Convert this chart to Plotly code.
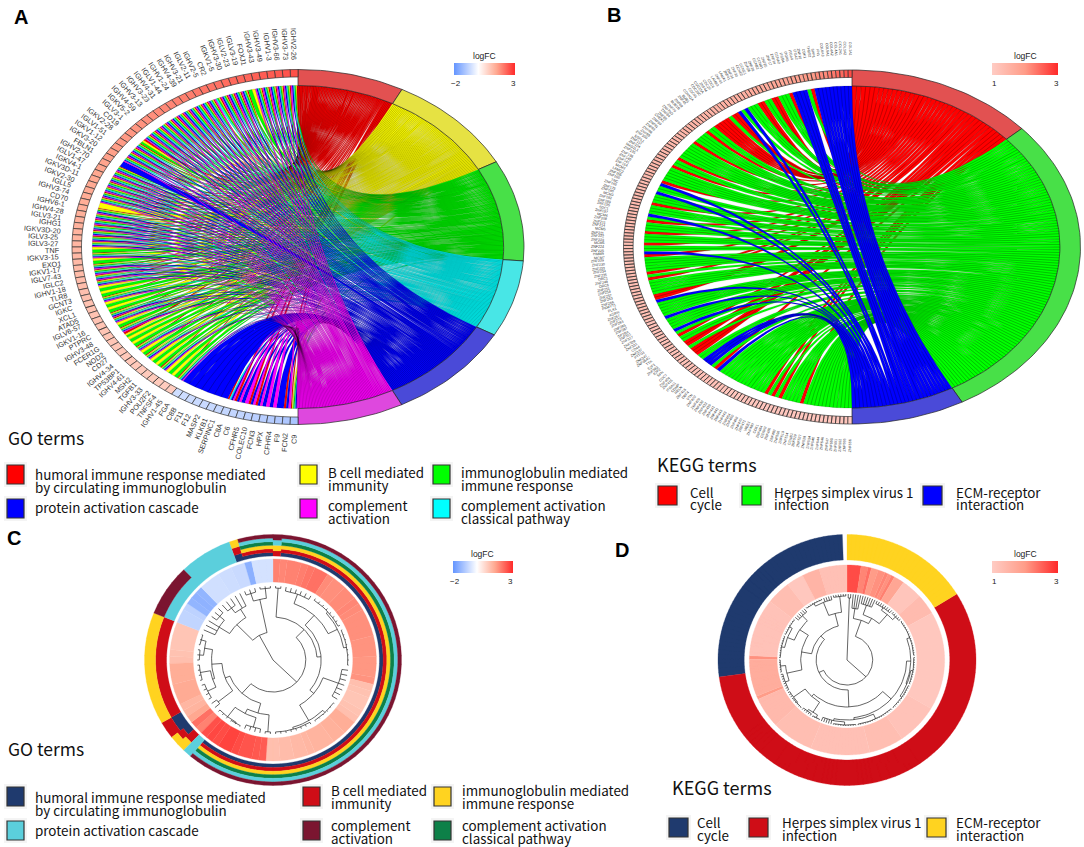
import itertools
import numpy as np
import plotly.graph_objects as go

W, H = 1084, 847

# ---------- Panel A data ----------
GO_TERMS = ["humoral", "B cell", "immunoglobulin", "classical", "protein", "complement"]
GO_CODES = "HBILPC"
GO_CHORD_COLORS = ["#FF0000", "#FFFF00", "#00FF00", "#00FFFF", "#0000FF", "#FF00FF"]
GO_SECTOR_COLORS = ["#E25151", "#E6E243", "#48E048", "#48E6E6", "#4A4AD8", "#DE48DE"]
GO_SPANS = [27.4, 33.9, 33.2, 25.2, 33.0, 27.3]

A_GENES = ("IGHV2-26 IGHV3-73 IGHV3-66 IGHV1-3 IGHV3-49 IGHV3-43 FOXJ1 IGLV3-19 IGLV2-23 IGHV3-30 "
           "IGKV1-5 CR2 IGHV2-5 IGLV2-11 IGHV3-21 IGHV4-39 IGHV1-24 IGLV1-44 IGHV4-31 IGHV3-23 "
           "IGHV3-13 IGHV4-59 IGKV5-2 IGLV3-1 CD19 IGKV2-28 IGLV1-51 IGKV1-12 IGKV3-20 FBLN1 "
           "IGHV2-70 IGLV1-47 IGKV4-1 IGKV3D-11 IGKV2-30 IGLL5 IGHV3-74 CD70 IGHV6-1 IGHV4-28 "
           "IGLV3-21 IGHG1 IGKV3D-20 IGLV3-25 IGLV3-27 TNF IGKV3-15 EXO1 IGKV1-17 IGLV7-43 "
           "IGLC2 IGHV1-18 TLR8 GCNT3 IGKC XCL1 ATAD5 IGLV6-57 IGKV1-16 PTPRC IGHV3-48 FCER1G "
           "NOD2 CD27 IGHV4-34 TP53BP1 IGHV4-61 MSH2 TGFB1 IGHV3-33 POU2F2 TNFSF4 IGHV1-45 "
           "FGA C8B F11 F12 MASP2 KLKB1 SERPINC1 C8A C6 CFHR5 COLEC10 FCN3 HPX CFHR4 F9 FCN2 C9").split()
A_SPECIAL = {"FOXJ1": "BI", "CR2": "HBILC", "CD19": "HBI", "FBLN1": "P", "CD70": "B", "TNF": "BI",
             "EXO1": "BI", "TLR8": "BI", "GCNT3": "BI", "XCL1": "BI", "ATAD5": "BI", "PTPRC": "BI",
             "FCER1G": "HBI", "NOD2": "BI", "CD27": "BI", "TP53BP1": "BI", "MSH2": "BI", "TGFB1": "BI",
             "POU2F2": "BI", "TNFSF4": "BI", "FGA": "P", "C8B": "P", "F11": "P", "F12": "P",
             "MASP2": "P", "KLKB1": "P", "SERPINC1": "P", "C8A": "HPLC", "C6": "HPC", "CFHR5": "PC",
             "COLEC10": "HPC", "FCN3": "HPC", "HPX": "PC", "CFHR4": "PC", "F9": "P", "FCN2": "HPC", "C9": "HBILPC"}
A_MEMBER = [A_SPECIAL.get(g, "HBILPC") for g in A_GENES]
A_LOGFC = [2.55, 2.5, 2.45, 2.42, 2.4, 2.35, 2.3, 2.28, 2.25, 2.2, 2.15, 2.12, 2.1, 2.05, 2.0, 1.98, 1.95, 1.9,
           1.88, 1.85, 1.8, 1.78, 1.75, 1.72, 1.7, 1.68, 1.65, 1.62, 1.6, 1.58, 1.55, 1.52, 1.5, 1.48, 1.46, 1.44,
           1.42, 1.4, 1.38, 1.36, 1.34, 1.32, 1.3, 1.28, 1.26, 1.24, 1.22, 1.2, 1.18, 1.16, 1.14, 1.12, 1.1, 1.08,
           1.06, 1.05, 1.04, 1.03, 1.02, 1.01, 1.0, 0.98, 0.97, 0.96, 0.95, 0.94, 0.93, 0.92, 0.91, 0.9, 0.9, 0.88,
           0.86, -0.62, -0.64, -0.66, -0.68, -0.7, -0.72, -0.74, -0.76, -0.78, -0.8, -0.84, -0.88, -0.92, -0.96,
           -1.0, -1.05, -1.1]

# ---------- Panel B data ----------
KEGG_CODES = "CHE"
KEGG_CHORD_COLORS = ["#FF0000", "#00FF00", "#0000FF"]
KEGG_SECTOR_COLORS = ["#E25151", "#48E048", "#4A4AD8"]
KEGG_SPANS = [48.0, 103.2, 28.8]
B_RUNS = [("E", 10), ("C", 1), ("H", 1), ("E", 4), ("C", 1), ("H", 3), ("C", 2), ("H", 2), ("C", 2), ("H", 3),
          ("E", 1), ("H", 1), ("E", 1), ("C", 2), ("H", 1), ("C", 5), ("H", 2), ("C", 1), ("H", 4), ("C", 1),
          ("H", 6), ("C", 1), ("H", 2), ("C", 1), ("H", 5), ("C", 1), ("E", 1), ("H", 2), ("E", 1), ("H", 3),
          ("C", 1), ("H", 3), ("E", 1), ("H", 1), ("C", 1), ("H", 3), ("C", 1), ("H", 3), ("C", 1), ("H", 2),
          ("E", 1), ("C", 1), ("H", 5), ("C", 1), ("H", 1), ("C", 1), ("H", 5), ("C", 2), ("E", 1), ("H", 5),
          ("E", 1), ("H", 4), ("E", 1), ("H", 1), ("C", 1), ("H", 2), ("C", 2), ("H", 1), ("C", 3), ("H", 2),
          ("E", 3), ("H", 1), ("C", 1), ("E", 1), ("H", 14), ("C", 1), ("H", 1), ("C", 1), ("H", 1), ("C", 1),
          ("H", 5), ("C", 1), ("H", 13)]
B_ECM_GENES = ("COL1A1 COL1A2 COL2A1 COL4A1 COL4A2 COL5A1 COL6A3 FN1 SPP1 THBS2 ITGA2 ITGA4 ITGA5 ITGB4 LAMA1 "
               "LAMB3 LAMC2 TNC SDC1 HMMR AGRN GP1BA CD44 ITGA11 COMP RELN VTN").split()
B_CC_GENES = ("CDK1 CCNA2 CCNB1 CCNB2 CCNE1 CCNE2 CDC6 CDC20 CDC25A CDC25C CDC45 CDKN2A BUB1 BUB1B CHEK1 ESPL1 "
              "MAD2L1 MCM2 MCM3 MCM4 MCM5 MCM6 MCM7 ORC1 ORC6 PKMYT1 PLK1 PTTG1 TTK E2F1 E2F2 SFN CDC7 DBF4 WEE1").split()
B_HSV_GENES = ("ZNF10 ZNF14 ZNF17 ZNF20 ZNF26 ZNF28 ZNF30 ZNF34 ZNF41 ZNF43 ZNF44 ZNF45 ZNF69 ZNF70 ZNF75D ZNF84 "
               "ZNF85 ZNF90 ZNF91 ZNF93 ZNF98 ZNF99 ZNF100 ZNF117 ZNF124 ZNF135 ZNF136 ZNF140 ZNF141 ZNF154 ZNF155 "
               "ZNF160 ZNF165 ZNF175 ZNF180 ZNF182 ZNF189 ZNF195 ZNF197 ZNF208 ZNF211 ZNF214 ZNF221 ZNF222 ZNF223 "
               "ZNF224 ZNF225 ZNF229 ZNF230 ZNF233 ZNF234 ZNF235 ZNF248 ZNF251 ZNF254 ZNF257 ZNF263 ZNF266 ZNF267 "
               "ZNF273 ZNF283 ZNF285 ZNF287 ZNF311 ZNF317 ZNF329 ZNF331 ZNF337 ZNF347 ZNF354C ZNF383 ZNF404 ZNF415 "
               "ZNF416 ZNF420 ZNF429 ZNF430 ZNF433 ZNF439 ZNF441 ZNF442 ZNF443 ZNF443 ZNF454 ZNF460 ZNF468 ZNF470 "
               "ZNF471 ZNF480 ZNF484 ZNF486 ZNF492 ZNF506 ZNF510 ZNF514 ZNF519 ZNF527 ZNF528 ZNF534 ZNF540 ZNF544 "
               "ZNF546 ZNF547 ZNF550 ZNF551 ZNF552 ZNF555 ZNF556 ZNF557 ZNF558 ZNF564").split()
B_LOGFC_RUNS = [(1, 2.7), (1, 2.6), (2, 2.45), (2, 2.3), (3, 2.15), (3, 2.0), (4, 1.85), (5, 1.75), (6, 1.65), (8, 1.55),
                (12, 1.48), (16, 1.42), (22, 1.35), (26, 1.28), (28, 1.2), (33, 1.12), (30, 1.05)]

# ---------- Panel C data ----------
C_LOGFC = [1.95, 1.9, 1.95, 1.95, 2.0, 2.1, 2.15, 2.15, 1.85, 1.8, 1.8, 1.85, 1.85, 1.9, 1.85, 1.8, 1.8, 1.8, 1.8,
           1.75, 1.75, 1.75, 1.7, 1.7, 1.7, 1.75, 1.1, 1.05, 1.0, 1.0, 1.05, 1.1, 1.4, 1.4, 1.35, 1.35, 1.3, 1.3, 1.3,
           1.25, 1.2, 1.2, 1.15, 1.15, 1.1, 1.1, 2.4, 2.45, 2.5, 2.5, 2.6, 2.7, 2.7, 2.6, 2.65, 2.55, 1.95, 2.15, 1.5,
           1.3, 1.25, 1.45, 1.45, 1.45, 1.4, 1.4, 1.4, 1.1, 1.05, 1.0, 1.0, 1.0, 1.0, -0.8, -0.8, -0.85, -1.4, -1.45,
           -1.4, -0.6, -0.6, -0.6, -0.65, -0.65, -0.7, -0.7, -1.5, -0.55, -0.55, -0.55]
C_TRACK_RUNS = [(1, "RYCD"), (54, "NRYGCD"), (1, "C"), (1, "RY"), (1, "NRY"), (2, "NR"), (1, "RY"), (12, "RY"),
                (6, "CD"), (6, "C"), (1, "NRY"), (4, "NRYGCD")]
C_TRACK_COLORS = {"N": "#1F3A6E", "R": "#CF0D17", "Y": "#FFD320", "G": "#0D8048", "C": "#5BCFDC", "D": "#7B1530"}
C_TREE = (0,
          (32,
           (43, (72, 2), (47, (60, (70, 6), (70, (72, 8), (73, 8))), (52, (68, 7), (70, (73, 6), (72, 8))))),
           (45, (55, (72, 2), (60, (70, 4), (72, (73, 3), 3))),
            (50, (68, 2), (60, (62, (71, 4), (72, 4)), (68, (72, 3), (73, 3)))))),
          (28, (50, (62, 3, (68, 3)), (60, (66, 3), 2)), (62, (70, 3), (72, 3))))

# ---------- Panel D data ----------
D_TRACK_RUNS = [(28, "E"), (98, "H"), (46, "C")]
D_TRACK_COLORS = {"C": "#1F3A6E", "H": "#CF0D17", "E": "#FFD320"}
D_LOGFC_RUNS = [(4, 2.7), (2, 2.2), (1, 2.4), (2, 2.0), (2, 2.1), (1, 2.2), (1, 2.1), (1, 2.25), (3, 1.8), (6, 1.15),
                (6, 1.35), (29, 1.1), (12, 1.2), (10, 1.3), (17, 1.25), (12, 1.3), (9, 1.4), (1, 2.0), (11, 1.65),
                (1, 2.1), (17, 1.2), (7, 1.3), (5, 1.1), (5, 1.5), (8, 1.25)]
D_TREE = (0, (62, 2),
          (25,
           (42, (52, 4), (48, (58, 6), (60, (63, 8), (64, 5)))),
           (30,
            (47, (58, (62, (65, 16), (63, (65, 12), (65, 12))), (60, (65, 16), (62, (65, 10), 5))),
             (50, (62, (65, 4), (64, 5)), (64, (65, 6), 3))),
            (35, (45, (60, (64, 8), (65, 6)), (55, (62, (65, 10), (65, 8)), (62, 6))),
             (48, (62, (65, 8), 4), (64, 6))))))

GO_LEGEND_A = ["#FF0000", "#0000FF", "#FFFF00", "#FF00FF", "#00FF00", "#00FFFF"]
GO_LEGEND_C = ["#1F3A6E", "#5BCFDC", "#CF0D17", "#7B1530", "#FFD320", "#0D8048"]

# ---------- Panel geometry ----------
PANELS = {
    "A": dict(ax="", cx=298, cy=247, rx=226, ry=177.5, box=(0, 0, 540, 452)),
    "B": dict(ax="2", cx=852, cy=247, rx=228.5, ry=177, box=(590, 0, 1084, 452)),
    "C": dict(ax="3", cx=273, cy=660, rx=128, ry=125, box=(130, 520, 415, 800)),
    "D": dict(ax="4", cx=847, cy=660, rx=128.5, ry=125, box=(700, 520, 990, 800)),
}


def hex_rgb(c):
    return [int(c[i:i + 2], 16) for i in (1, 3, 5)]


def ramp(v, stops):
    xs = [s[0] for s in stops]
    cols = np.array([hex_rgb(s[1]) for s in stops], float)
    rgb = [int(round(float(np.interp(v, xs, cols[:, k])))) for k in range(3)]
    return "rgb(%d,%d,%d)" % tuple(rgb)


SCALE_A = [(-2, "#6495FF"), (0, "#FFFFFF"), (1.5, "#FFA890"), (3, "#FF2A2A")]
SCALE_B = [(1, "#FFCCC4"), (2, "#FF9C88"), (3, "#FF2A2A")]


def colorscale(stops):
    lo, hi = stops[0][0], stops[-1][0]
    return [[(s[0] - lo) / (hi - lo), s[1]] for s in stops]


fig = go.Figure()
annotations, shapes = [], []


def pt(theta, r):
    t = np.radians(theta)
    return r * np.sin(t), r * np.cos(t)


def band(t0, t1, r0, r1):
    n = max(2, int(abs(t1 - t0) / 1.5) + 2)
    a = np.linspace(t0, t1, n)
    x0, y0 = pt(a, r0)
    x1, y1 = pt(a[::-1], r1)
    return list(x0) + list(x1) + [x0[0]], list(y0) + list(y1) + [y0[0]]


def add_polys(ax, polys, color, line="rgba(0,0,0,0.42)", lw=0.32):
    xs, ys = [], []
    for px, py in polys:
        xs += list(px) + [None]
        ys += list(py) + [None]
    fig.add_trace(go.Scatter(x=xs, y=ys, mode="lines", fill="toself", fillcolor=color,
                             line=dict(color=line, width=lw), hoverinfo="skip", showlegend=False,
                             xaxis="x" + ax, yaxis="y" + ax))


def ribbon(tlo, thi, glo, ghi, r=0.91):
    u = np.linspace(0, 1, 26)
    a0 = np.array(pt(thi, r)); a1 = np.array(pt(glo, r))
    b0 = np.array(pt(tlo, r)); b1 = np.array(pt(ghi, r))
    s1 = np.outer((1 - u) ** 2, a0) + np.outer(u ** 2, a1)
    s2 = np.outer((1 - u) ** 2, b0) + np.outer(u ** 2, b1)
    P = np.vstack([s1, s2[::-1], s1[:1]])
    return P[:, 0], P[:, 1]


def chord(panel, genes, member, logfc, codes, chord_cols, sector_cols, spans, stops, size, offs):
    p = PANELS[panel]
    ax = p["ax"]
    n = len(genes)
    w = 180.0 / n
    ends = np.cumsum(spans)
    starts = ends - np.array(spans)
    polys = {c: [] for c in codes}
    counts = {c: sum(c in m for m in member) for c in codes}
    seen = {c: 0 for c in codes}
    for i, m in enumerate(member):
        ghi = 360 - i * w
        ordered = [c for c in codes if c in m]
        gw = w / len(ordered)
        for j, c in enumerate(ordered):
            k = codes.index(c)
            tw = spans[k] / counts[c]
            tlo = starts[k] + seen[c] * tw
            seen[c] += 1
            polys[c].append(ribbon(tlo, tlo + tw, ghi - (j + 1) * gw, ghi - j * gw))
    for k, c in enumerate(codes):
        add_polys(ax, polys[c], chord_cols[k])
    for k in range(len(codes)):
        add_polys(ax, [band(starts[k], ends[k], 0.91, 1.0)], sector_cols[k], "#222222", 0.7)
    by_col = {}
    for i, v in enumerate(logfc[:n]):
        ghi = 360 - i * w
        by_col.setdefault(ramp(v, stops), []).append(band(ghi - w, ghi, 0.958, 1.0))
    for col, pl in by_col.items():
        add_polys(ax, pl, col, "#333333", 0.7)
    # labels: the text runs along the true angle of the gene, starting just outside the ellipse
    for i, g in enumerate(genes):
        th = 360 - (i + 0.5) * w
        x, y = pt(th, offs)
        ux, uy = np.sin(np.radians(th)), np.cos(np.radians(th))
        ang = np.degrees(np.arctan2(uy, -ux))
        half = len(g) * size * 0.52 / 2
        annotations.append(dict(x=x, y=y, xref="x" + ax, yref="y" + ax, text=g, showarrow=False,
                                textangle=float(ang), xshift=float(ux * half), yshift=float(uy * half),
                                xanchor="center", yanchor="middle", borderpad=0,
                                font=dict(size=size, family="Liberation Sans", color="#333333")))


def colorbar_trace(panel, values, stops, cx_px, top_px, length):
    p = PANELS[panel]
    ax = p["ax"]
    lo, hi = stops[0][0], stops[-1][0]
    fig.add_trace(go.Scatter(
        x=[0] * len(values), y=[0] * len(values), mode="markers", opacity=0, hoverinfo="skip", showlegend=False,
        xaxis="x" + ax, yaxis="y" + ax,
        marker=dict(size=1, color=values, cmin=lo, cmax=hi, colorscale=colorscale(stops), showscale=True,
                    colorbar=dict(orientation="h", x=cx_px / W, xanchor="center", y=1 - top_px / H, yanchor="top",
                                  lenmode="pixels", len=length, thickness=12, outlinewidth=0, xpad=0, ypad=0,
                                  tickvals=[], showticklabels=False, ticks=""))))
    for s, xp, yp, sz in [("logFC", cx_px, top_px - 7, 8.5),
                          (str(lo).replace("-", "\u2212"), cx_px - length / 2 + 2, top_px + 20, 8),
                          (str(hi), cx_px + length / 2 - 2, top_px + 20, 8)]:
        annotations.append(dict(x=xp / W, y=1 - yp / H, xref="paper", yref="paper", text=s, showarrow=False,
                                xanchor="center", yanchor="middle", borderpad=0,
                                font=dict(size=sz, family="Liberation Sans", color="#222222")))


def tree_segments(node, r_leaf, N, counter, segs):
    r = node[0]
    info = []
    for ch in node[1:]:
        if isinstance(ch, int):
            for _ in range(ch):
                a = (counter[0] + 0.5) * 360.0 / N
                counter[0] += 1
                info.append((a, r_leaf))
        else:
            info.append((tree_segments(ch, r_leaf, N, counter, segs), ch[0]))
    angs = [a for a, _ in info]
    for a, rc in info:
        segs.append(([a, a], [r, rc]))
    m = max(2, int((max(angs) - min(angs)) / 3) + 2)
    segs.append((list(np.linspace(min(angs), max(angs), m)), [r] * m))
    return (min(angs) + max(angs)) / 2


def count_leaves(node):
    return sum(c if isinstance(c, int) else count_leaves(c) for c in node[1:])


def circ(panel, logfc, stops, radii, track_runs, track_colors, order, tree, r_leaf):
    p = PANELS[panel]
    ax = p["ax"]
    ry = p["ry"]
    n = len(logfc)
    w = 360.0 / n
    by_col = {}
    for i, v in enumerate(logfc):
        by_col.setdefault(ramp(v, stops), []).append(band(i * w, (i + 1) * w, radii[0] / ry, radii[1] / ry))
    for col, pl in by_col.items():
        add_polys(ax, pl, col, col, 0.3)
    tr = {c: [] for c in order}
    i = 0
    for cnt, code in track_runs:
        for _ in range(cnt):
            cs = [c for c in order if c in code]
            dr = (radii[3] - radii[2]) / len(cs)
            for j, c in enumerate(cs):
                tr[c].append(band(i * w, (i + 1) * w, (radii[2] + j * dr) / ry, (radii[2] + (j + 1) * dr) / ry))
            i += 1
    for c in order:
        add_polys(ax, tr[c], track_colors[c], track_colors[c], 0.3)
    segs = []
    tree_segments(tree, r_leaf, count_leaves(tree), [0], segs)
    xs, ys = [], []
    for a, r in segs:
        x, y = pt(np.array(a), np.array(r) / ry)
        xs += list(x) + [None]
        ys += list(y) + [None]
    fig.add_trace(go.Scatter(x=xs, y=ys, mode="lines", line=dict(color="#222222", width=0.7), hoverinfo="skip",
                             showlegend=False, xaxis="x" + ax, yaxis="y" + ax))


def expand(runs):
    out = []
    for c, v in runs:
        out += [v] * c
    return out


# ---------- Axes ----------
layout_axes = {}
for name, p in PANELS.items():
    x0, y0, x1, y1 = p["box"]
    sfx = p["ax"]
    layout_axes["xaxis" + sfx] = dict(domain=[x0 / W, x1 / W], range=[(x0 - p["cx"]) / p["rx"], (x1 - p["cx"]) / p["rx"]],
                                      visible=False, fixedrange=True, anchor="y" + sfx)
    layout_axes["yaxis" + sfx] = dict(domain=[1 - y1 / H, 1 - y0 / H], range=[(p["cy"] - y1) / p["ry"], (p["cy"] - y0) / p["ry"]],
                                      visible=False, fixedrange=True, anchor="x" + sfx)

# ---------- Draw panels ----------
chord("A", A_GENES, A_MEMBER, A_LOGFC, GO_CODES, GO_CHORD_COLORS, GO_SECTOR_COLORS, GO_SPANS, SCALE_A, 7.2, 1.062)

b_letters = "".join(c * k for c, k in B_RUNS)
pools = {"E": itertools.cycle(B_ECM_GENES), "C": itertools.cycle(B_CC_GENES), "H": itertools.cycle(B_HSV_GENES)}
b_genes = [next(pools[c]) for c in b_letters]
b_logfc = expand(B_LOGFC_RUNS)
b_logfc += [b_logfc[-1]] * (len(b_genes) - len(b_logfc))
chord("B", b_genes, list(b_letters), b_logfc, KEGG_CODES, KEGG_CHORD_COLORS, KEGG_SECTOR_COLORS, KEGG_SPANS, SCALE_B, 3.6, 1.09)

circ("C", C_LOGFC, SCALE_A, (78, 101, 104, 125.5), C_TRACK_RUNS, C_TRACK_COLORS, "NRYGCD", C_TREE, 74)
d_logfc = expand(D_LOGFC_RUNS)
circ("D", d_logfc, SCALE_B, (68, 95, 100, 125.5), D_TRACK_RUNS, D_TRACK_COLORS, "CHE", D_TREE, 66)

colorbar_trace("A", A_LOGFC, SCALE_A, 484.5, 63, 61)
colorbar_trace("B", b_logfc, SCALE_B, 1025, 63, 66)
colorbar_trace("C", C_LOGFC, SCALE_A, 482.5, 561, 60)
colorbar_trace("D", d_logfc, SCALE_B, 1025, 561, 66)


# ---------- Legends and letters ----------
def text(x, y, s, size=13.4, weight=None, family="Noto Sans CJK SC", color="#111111"):
    t = "<b>%s</b>" % s if weight else s
    annotations.append(dict(x=x / W, y=1 - y / H, xref="paper", yref="paper", text=t, showarrow=False,
                            xanchor="left", yanchor="middle", borderpad=0,
                            font=dict(size=size, family=family, color=color)))


def swatch(x0, y0, x1, y1, color):
    shapes.append(dict(type="rect", xref="paper", yref="paper", x0=(x0 - 3) / W, x1=(x1 + 3) / W, y0=1 - (y1 + 3) / H,
                       y1=1 - (y0 - 3) / H, fillcolor="#F4F4F4", line=dict(width=0), layer="below"))
    shapes.append(dict(type="rect", xref="paper", yref="paper", x0=x0 / W, x1=x1 / W, y0=1 - y1 / H, y1=1 - y0 / H,
                       fillcolor=color, line=dict(color="#333333", width=1.2)))


for ch, x, y in [("A", 13, 17), ("B", 606, 15), ("C", 6, 538), ("D", 614, 550)]:
    text(x, y, ch, size=20, weight=True, family="Liberation Sans", color="#000")


def go_legend(colors, ty, sy1, sy2, t11, t12, t21, t22, xs):
    text(7, ty, "GO terms", size=17.5)
    swatch(7, sy1, 24, sy1 + 19, colors[0])
    swatch(7, sy2, 24, sy2 + 19, colors[1])
    swatch(xs[0], sy1, xs[0] + 17, sy1 + 19, colors[2])
    swatch(xs[0], sy2, xs[0] + 17, sy2 + 19, colors[3])
    swatch(xs[1], sy1, xs[1] + 17, sy1 + 19, colors[4])
    swatch(xs[1], sy2, xs[1] + 17, sy2 + 19, colors[5])
    text(34, t11, "humoral immune response mediated")
    text(34, t11 + 13, "by circulating immunoglobulin")
    text(34, t12, "protein activation cascade")
    text(xs[0] + 27, t21, "B cell mediated")
    text(xs[0] + 27, t21 + 13, "immunity")
    text(xs[0] + 27, t22, "complement")
    text(xs[0] + 27, t22 + 13, "activation")
    text(xs[1] + 27, t21, "immunoglobulin mediated")
    text(xs[1] + 27, t21 + 13, "immune response")
    text(xs[1] + 27, t22, "complement activation")
    text(xs[1] + 27, t22 + 13, "classical pathway")


go_legend(GO_LEGEND_A, 437, 465, 499, 474, 507, 472, 505, (300, 433))
go_legend(GO_LEGEND_C, 748, 787, 821, 797, 830, 790, 825, (303, 434))


def kegg_legend(colors, tx, ty, sw, sy, tx2, l1):
    text(tx, ty, "KEGG terms", size=18)
    labels = [("Cell", "cycle"), ("Herpes simplex virus 1", "infection"), ("ECM-receptor", "interaction")]
    for c, s, t, (a, b) in zip(colors, sw, tx2, labels):
        swatch(s, sy, s + 19, sy + 19, c)
        text(t, l1, a)
        text(t, l1 + 12.5, b)


kegg_legend(["#FF0000", "#00FF00", "#0000FF"], 656, 464, (658, 742, 923), 486, (689, 773, 955), 492)
kegg_legend(["#1F3A6E", "#CF0D17", "#FFD320"], 671, 787, (669, 749, 927), 818, (696, 781, 955), 822)

fig.update_layout(width=W, height=H, margin=dict(l=0, r=0, t=0, b=0), paper_bgcolor="white", plot_bgcolor="rgba(0,0,0,0)",
                  showlegend=False, annotations=annotations, shapes=shapes, **layout_axes)

fig.write_html("out.html", post_script="document.body.style.margin='0';", config={"displayModeBar": False})
